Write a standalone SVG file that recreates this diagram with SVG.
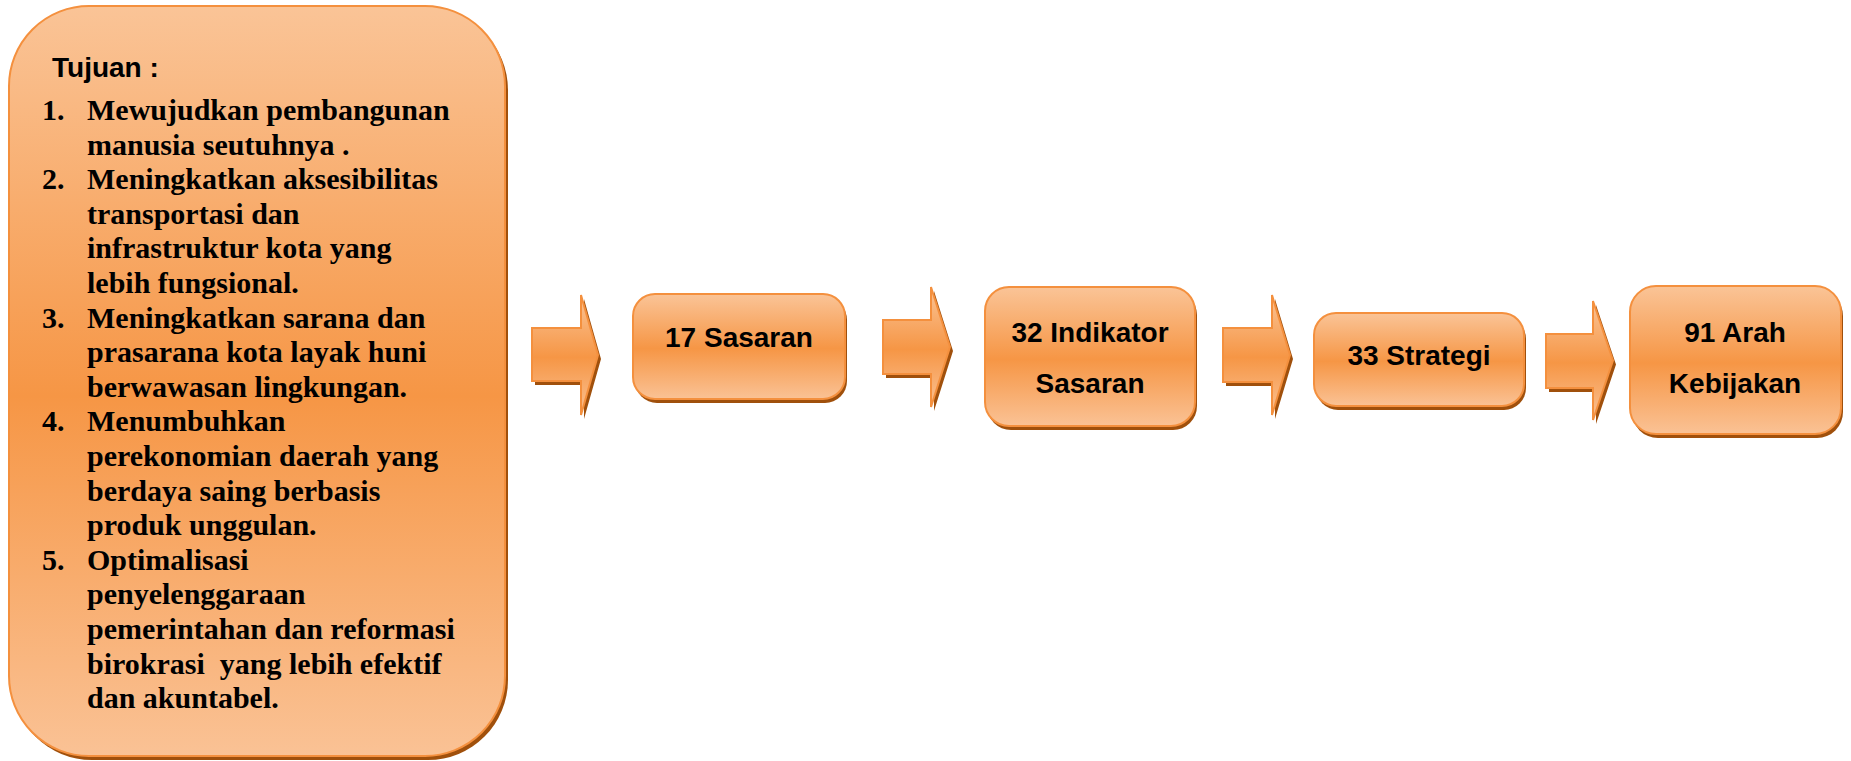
<svg xmlns="http://www.w3.org/2000/svg" width="1851" height="761" viewBox="0 0 1851 761">
<defs>
<linearGradient id="g" x1="0" y1="0" x2="0" y2="1">
<stop offset="0" stop-color="#FAC497"/>
<stop offset="0.52" stop-color="#F69645"/>
<stop offset="1" stop-color="#FAC295"/>
</linearGradient>
<style>
.sh{fill:#A0500C}
.sf{fill:url(#g);stroke:#F4903E;stroke-width:2}
.lbl{font-family:"Liberation Sans",Arial,sans-serif;font-weight:bold;font-size:28px;fill:#000;text-anchor:middle}
.tt{font-family:"Liberation Sans",Arial,sans-serif;font-weight:bold;font-size:28px;fill:#000}
.li{font-family:"Liberation Serif","Times New Roman",serif;font-weight:bold;font-size:30px;fill:#000}
</style>
</defs>
<rect width="1851" height="761" fill="#fff"/>
<g id="tujuan">
<rect class="sh" x="12" y="10" width="496" height="750" rx="80"/>
<rect class="sf" x="9" y="6" width="496" height="750" rx="80"/>
<text class="tt" x="52" y="77">Tujuan :</text>
<g class="li">
<text x="42" y="120">1.</text>
<text x="87" y="120">Mewujudkan pembangunan</text>
<text x="87" y="154.6">manusia seutuhnya .</text>
<text x="42" y="189.2">2.</text>
<text x="87" y="189.2">Meningkatkan aksesibilitas</text>
<text x="87" y="223.8">transportasi dan</text>
<text x="87" y="258.4">infrastruktur kota yang</text>
<text x="87" y="293">lebih fungsional.</text>
<text x="42" y="327.6">3.</text>
<text x="87" y="327.6">Meningkatkan sarana dan</text>
<text x="87" y="362.2">prasarana kota layak huni</text>
<text x="87" y="396.8">berwawasan lingkungan.</text>
<text x="42" y="431.4">4.</text>
<text x="87" y="431.4">Menumbuhkan</text>
<text x="87" y="466">perekonomian daerah yang</text>
<text x="87" y="500.6">berdaya saing berbasis</text>
<text x="87" y="535.2">produk unggulan.</text>
<text x="42" y="569.8">5.</text>
<text x="87" y="569.8">Optimalisasi</text>
<text x="87" y="604.4">penyelenggaraan</text>
<text x="87" y="639">pemerintahan dan reformasi</text>
<text x="87" y="673.6" xml:space="preserve">birokrasi  yang lebih efektif</text>
<text x="87" y="708.2">dan akuntabel.</text>
</g>
</g>
<g id="connectors">
<path class="sh" transform="translate(3,4)" d="M532,328 H581 V295 L598,355 L581,415 V381 H532 Z"/>
<path class="sf" stroke-width="1.5" d="M532,328 H581 V295 L598,355 L581,415 V381 H532 Z"/>
<path class="sh" transform="translate(3,4)" d="M883,320 H931 V287 L950,347 L931,407 V374 H883 Z"/>
<path class="sf" stroke-width="1.5" d="M883,320 H931 V287 L950,347 L931,407 V374 H883 Z"/>
<path class="sh" transform="translate(3,4)" d="M1223,328 H1272 V295 L1290,355 L1272,415 V382 H1223 Z"/>
<path class="sf" stroke-width="1.5" d="M1223,328 H1272 V295 L1290,355 L1272,415 V382 H1223 Z"/>
<path class="sh" transform="translate(3,4)" d="M1546,334 H1593 V301 L1613,360.5 L1593,420 V388 H1546 Z"/>
<path class="sf" stroke-width="1.5" d="M1546,334 H1593 V301 L1613,360.5 L1593,420 V388 H1546 Z"/>
</g>
<g id="sasaran">
<rect class="sh" x="635" y="298" width="212" height="105" rx="22"/>
<rect class="sf" x="633" y="294" width="212" height="105" rx="22"/>
<text class="lbl" x="739" y="347">17 Sasaran</text>
</g>
<g id="indikator">
<rect class="sh" x="987" y="291" width="210" height="139" rx="24"/>
<rect class="sf" x="985" y="287" width="210" height="139" rx="24"/>
<text class="lbl" x="1090" y="342">32 Indikator</text>
<text class="lbl" x="1090" y="393">Sasaran</text>
</g>
<g id="strategi">
<rect class="sh" x="1316" y="317" width="210" height="93" rx="22"/>
<rect class="sf" x="1314" y="313" width="210" height="93" rx="22"/>
<text class="lbl" x="1419" y="365">33 Strategi</text>
</g>
<g id="arah">
<rect class="sh" x="1632" y="290" width="211" height="148" rx="26"/>
<rect class="sf" x="1630" y="286" width="211" height="148" rx="26"/>
<text class="lbl" x="1735" y="342">91 Arah</text>
<text class="lbl" x="1735" y="393">Kebijakan</text>
</g>
</svg>
